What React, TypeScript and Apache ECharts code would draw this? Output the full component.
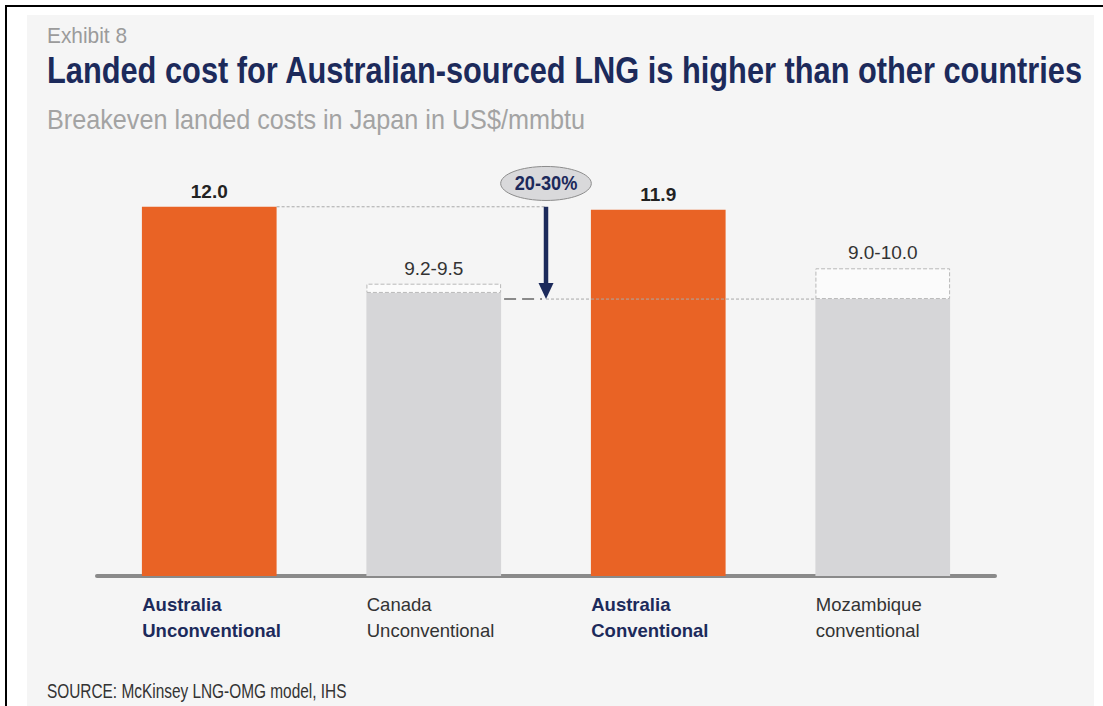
import React, { useEffect, useRef } from "react";
import * as echarts from "echarts";

const categories = ["Australia\nUnconventional", "Canada\nUnconventional", "Australia\nConventional", "Mozambique\nconventional"];
const lowValues = [12.0, 9.2, 11.9, 9.0];
const highValues = [12.0, 9.5, 11.9, 10.0];
const valueLabels = ["12.0", "9.2-9.5", "11.9", "9.0-10.0"];
const refTop = 12.0;
const refBottom = 9.0;
const gapLabel = "20-30%";
const exhibitText = "Exhibit 8";
const titleText = "Landed cost for Australian-sourced LNG is higher than other countries";
const subtitleText = "Breakeven landed costs in Japan in US$/mmbtu";
const sourceText = "SOURCE: McKinsey LNG-OMG model, IHS";

const FONT = '"Liberation Sans", Arial, Helvetica, sans-serif';
const NAVY = "#1c2a5b";
const ORANGE = "#e96325";
const GREY_BAR = "#d6d6d8";
const isHighlight = (i: number) => categories[i].startsWith("Australia");

export default function App() {
  const ref = useRef<HTMLDivElement>(null);
  useEffect(() => {
    if (!ref.current) return;
    const chart = echarts.init(ref.current, null, { renderer: "svg" });
    const rangeValues = highValues.map((h, i) => +(h - lowValues[i]).toFixed(2));
    chart.setOption({
      animation: false,
      backgroundColor: "#ffffff",
      grid: { left: 97, right: 108, top: 176, bottom: 130, containLabel: false },
      xAxis: {
        type: "category",
        data: categories,
        axisLine: { lineStyle: { color: "#8a8a8a", width: 4, cap: "round" } },
        axisTick: { show: false },
        axisLabel: {
          margin: 15,
          interval: 0,
          formatter: (v: string, i: number) => (isHighlight(i) ? `{a|${v}}` : `{b|${v}}`),
          rich: {
            a: { width: 134, align: "left", fontFamily: FONT, fontSize: 18.5, fontWeight: "bold", color: NAVY, lineHeight: 26 },
            b: { width: 134, align: "left", fontFamily: FONT, fontSize: 18.5, color: "#333333", lineHeight: 26 },
          },
        },
      },
      yAxis: { type: "value", min: 0, max: 13, show: false, splitLine: { show: false } },
      series: [
        {
          type: "bar",
          stack: "s",
          barWidth: "60%",
          data: lowValues.map((v, i) => ({ value: v, itemStyle: { color: isHighlight(i) ? ORANGE : GREY_BAR } })),
        },
        {
          type: "bar",
          stack: "s",
          barWidth: "60%",
          data: rangeValues.map((v, i) => ({
            value: v,
            itemStyle: v > 0
              ? { color: "#fbfbfb", borderColor: "#b8b8b8", borderWidth: 1, borderType: "dashed" }
              : { color: "transparent", borderWidth: 0 },
            label: {
              show: true,
              position: "top",
              distance: 6,
              formatter: valueLabels[i],
              fontFamily: FONT,
              fontSize: 19,
              fontWeight: isHighlight(i) ? "bold" : "normal",
              color: isHighlight(i) ? "#222222" : "#333333",
            },
          })),
        },
      ],
    });

    const px = (i: number, v: number) => chart.convertToPixel({ gridIndex: 0 }, [i, v]) as number[];
    const band = px(1, 0)[0] - px(0, 0)[0];
    const half = band * 0.3;
    const bar0Right = px(0, 0)[0] + half;
    const bar1Right = px(1, 0)[0] + half;
    const bar2Left = px(2, 0)[0] - half;
    const bar3Left = px(3, 0)[0] - half;
    const ax = (bar1Right + bar2Left) / 2;
    const yTop = px(0, refTop)[1];
    const yBot = px(0, refBottom)[1];

    chart.setOption({
      graphic: [
        { type: "rect", z: -10, shape: { x: 27, y: 15, width: 1067, height: 700 }, style: { fill: "#f5f5f5" } },
        { type: "rect", z: 50, shape: { x: 5, y: 5, width: 1098, height: 2 }, style: { fill: "#000" } },
        { type: "rect", z: 50, shape: { x: 5, y: 5, width: 2, height: 701 }, style: { fill: "#000" } },
        { type: "text", z: 50, x: 47, y: 36, scaleX: 0.95, style: { text: exhibitText, fontFamily: FONT, fontSize: 22, fill: "#9b9b9b", textVerticalAlign: "middle" } },
        { type: "text", z: 50, x: 47, y: 71, scaleX: 0.855, style: { text: titleText, fontFamily: FONT, fontSize: 36, fontWeight: "bold", fill: NAVY, textVerticalAlign: "middle" } },
        { type: "text", z: 50, x: 47, y: 120, scaleX: 0.934, style: { text: subtitleText, fontFamily: FONT, fontSize: 27, fill: "#a3a3a3", textVerticalAlign: "middle" } },
        { type: "text", z: 50, x: 47, y: 691, scaleX: 0.79, style: { text: sourceText, fontFamily: FONT, fontSize: 19.5, fill: "#333333", textVerticalAlign: "middle" } },
        { type: "line", z: 100, shape: { x1: bar0Right, y1: yTop, x2: ax, y2: yTop }, style: { stroke: "#a8a8a8", lineWidth: 1, lineDash: [3, 2] } },
        { type: "line", z: 100, shape: { x1: bar1Right + 3, y1: yBot, x2: ax - 4, y2: yBot }, style: { stroke: "#8a8a8a", lineWidth: 2, lineDash: [12, 6] } },
        { type: "line", z: 100, shape: { x1: ax, y1: yBot, x2: bar3Left, y2: yBot }, style: { stroke: "#a8a8a8", lineWidth: 1, lineDash: [3, 2] } },
        { type: "line", z: 101, shape: { x1: ax, y1: yTop, x2: ax, y2: yBot - 14 }, style: { stroke: NAVY, lineWidth: 4.5 } },
        { type: "polygon", z: 101, shape: { points: [[ax - 7.5, yBot - 16], [ax + 7.5, yBot - 16], [ax, yBot]] }, style: { fill: NAVY } },
        { type: "ellipse", z: 102, shape: { cx: ax, cy: yTop - 23.3, rx: 45.3, ry: 17 }, style: { fill: "#d9d9db", stroke: "#8c8c8c", lineWidth: 1 } },
        { type: "text", z: 103, x: ax, y: yTop - 23.3, scaleX: 0.91, style: { text: gapLabel, fontFamily: FONT, fontSize: 20, fontWeight: "bold", fill: NAVY, textAlign: "center", textVerticalAlign: "middle" } },
      ],
    });

    return () => chart.dispose();
  }, []);
  return <div ref={ref} style={{ position: "fixed", left: 0, top: 0, width: 1103, height: 706 }} />;
}
